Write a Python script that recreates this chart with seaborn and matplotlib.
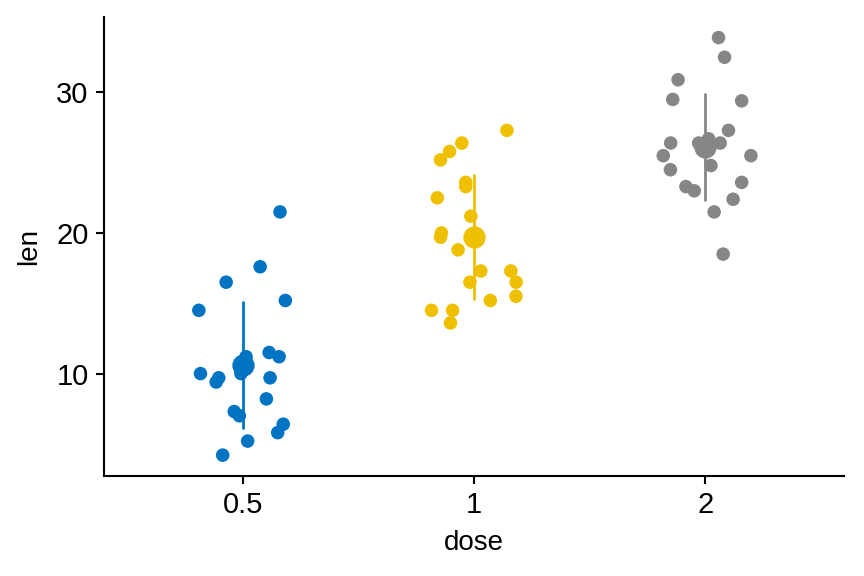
import numpy as np
import pandas as pd
import matplotlib
matplotlib.use("Agg")
import matplotlib.pyplot as plt
import seaborn as sns

# ToothGrowth-style data: len per dose, with the jitter offsets
doses = ["0.5", "1", "2"]
colors = ["#0073C2", "#EFC000", "#868686"]

len_05 = [21.5, 17.6, 16.5, 15.2, 14.5, 11.5, 11.2, 11.2, 10.0, 10.0,
          9.7, 9.4, 9.7, 8.2, 7.3, 7.0, 6.4, 5.8, 5.2, 4.2]
jit_05 = [0.161, 0.075, -0.072, 0.184, -0.190, 0.114, 0.157, 0.014, -0.008, -0.183,
          -0.104, -0.115, 0.118, 0.102, -0.037, -0.015, 0.175, 0.151, 0.021, -0.087]

len_1 = [27.3, 26.4, 25.8, 25.2, 23.6, 23.3, 22.5, 21.2, 20.0, 19.7,
         18.8, 17.3, 17.3, 16.5, 16.5, 15.5, 15.2, 14.5, 14.5, 13.6]
jit_1 = [0.142, -0.053, -0.106, -0.145, -0.036, -0.036, -0.159, -0.014, -0.141, -0.145,
         -0.069, 0.029, 0.159, -0.018, 0.182, 0.181, 0.070, -0.184, -0.093, -0.102]

len_2 = [33.9, 32.5, 30.9, 29.5, 29.4, 27.3, 26.4, 26.4, 26.7, 26.4,
         25.5, 25.5, 24.8, 24.5, 23.6, 23.3, 23.0, 22.4, 21.5, 18.5]
jit_2 = [0.057, 0.083, -0.118, -0.141, 0.157, 0.100, -0.150, 0.064, 0.014, -0.029,
         -0.182, 0.197, 0.024, -0.151, 0.157, -0.084, -0.048, 0.120, 0.038, 0.077]

frames = []
for i, (d, vals, jit) in enumerate(zip(doses, [len_05, len_1, len_2], [jit_05, jit_1, jit_2])):
    frames.append(pd.DataFrame({"dose": d, "len": vals, "xpos": i + np.array(jit)}))
df = pd.concat(frames, ignore_index=True)

sns.set_style("ticks")
plt.rcParams["font.family"] = ["Liberation Sans", "DejaVu Sans"]

fig = plt.figure(figsize=(8.64, 5.76), dpi=100)
ax = fig.add_axes([0.1204, 0.1736, 0.8566, 0.7974])

palette = dict(zip(doses, colors))

# mean +/- sd
sns.pointplot(data=df, x="dose", y="len", hue="dose", order=doses, hue_order=doses,
              palette=palette, errorbar="sd", linestyle="none", markers="o",
              markersize=14, err_kws={"linewidth": 2.0}, legend=False, ax=ax, zorder=3)

# jittered points
sns.scatterplot(data=df, x="xpos", y="len", hue="dose", hue_order=doses, palette=palette,
                s=95, edgecolor="none", linewidth=0, legend=False, ax=ax, zorder=2)

ax.set_xlim(-0.6, 2.6)
ax.set_ylim(2.715, 35.385)
ax.set_xticks([0, 1, 2])
ax.set_xticklabels(doses)
ax.set_yticks([10, 20, 30])
ax.set_xlabel("dose", fontsize=20, labelpad=8, color="black")
ax.set_ylabel("len", fontsize=20, labelpad=10, color="black")
ax.tick_params(axis="both", labelsize=21, length=6, width=1.5, pad=5,
               color="black", labelcolor="black")
for side in ["top", "right"]:
    ax.spines[side].set_visible(False)
for side in ["left", "bottom"]:
    ax.spines[side].set_linewidth(1.5)
    ax.spines[side].set_color("black")

plt.savefig("out.png", dpi=100)
